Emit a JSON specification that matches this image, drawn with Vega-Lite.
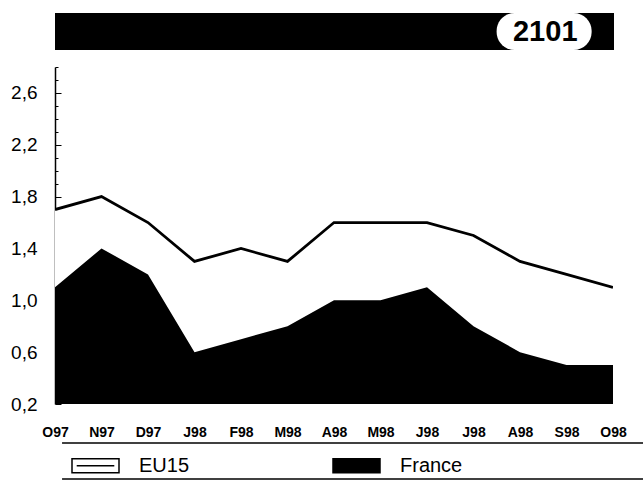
{
  "$schema": "https://vega.github.io/schema/vega-lite/v6.json",
  "padding": {"left": 10, "top": 13, "right": 0, "bottom": 0},
  "background": "white",
  "config": {"view": {"stroke": null}, "font": "Liberation Sans"},
  "spacing": 16,
  "datasets": {
    "series": [
      {"month": "1997-10", "series": "EU15", "value": 1.7},
      {"month": "1997-11", "series": "EU15", "value": 1.8},
      {"month": "1997-12", "series": "EU15", "value": 1.6},
      {"month": "1998-01", "series": "EU15", "value": 1.3},
      {"month": "1998-02", "series": "EU15", "value": 1.4},
      {"month": "1998-03", "series": "EU15", "value": 1.3},
      {"month": "1998-04", "series": "EU15", "value": 1.6},
      {"month": "1998-05", "series": "EU15", "value": 1.6},
      {"month": "1998-06", "series": "EU15", "value": 1.6},
      {"month": "1998-07", "series": "EU15", "value": 1.5},
      {"month": "1998-08", "series": "EU15", "value": 1.3},
      {"month": "1998-09", "series": "EU15", "value": 1.2},
      {"month": "1998-10", "series": "EU15", "value": 1.1},
      {"month": "1997-10", "series": "France", "value": 1.1},
      {"month": "1997-11", "series": "France", "value": 1.4},
      {"month": "1997-12", "series": "France", "value": 1.2},
      {"month": "1998-01", "series": "France", "value": 0.6},
      {"month": "1998-02", "series": "France", "value": 0.7},
      {"month": "1998-03", "series": "France", "value": 0.8},
      {"month": "1998-04", "series": "France", "value": 1.0},
      {"month": "1998-05", "series": "France", "value": 1.0},
      {"month": "1998-06", "series": "France", "value": 1.1},
      {"month": "1998-07", "series": "France", "value": 0.8},
      {"month": "1998-08", "series": "France", "value": 0.6},
      {"month": "1998-09", "series": "France", "value": 0.5},
      {"month": "1998-10", "series": "France", "value": 0.5}
    ],
    "header": [{"label": "2101"}]
  },
  "vconcat": [
    {
      "width": 559,
      "height": 37,
      "data": {"name": "header"},
      "layer": [
        {
          "mark": {"type": "rect", "color": "black"},
          "encoding": {
            "x": {"datum": 0, "type": "quantitative", "scale": {"domain": [0, 1]}, "axis": null},
            "x2": {"datum": 1},
            "y": {"datum": 0, "type": "quantitative", "scale": {"domain": [0, 1]}, "axis": null},
            "y2": {"datum": 1}
          }
        },
        {
          "mark": {"type": "rect", "color": "white", "cornerRadius": 18},
          "encoding": {
            "x": {"datum": 0.79, "type": "quantitative"},
            "x2": {"datum": 0.96},
            "y": {"datum": 0, "type": "quantitative"},
            "y2": {"datum": 1}
          }
        },
        {
          "mark": {"type": "text", "font": "Liberation Sans", "fontWeight": "bold", "fontSize": 29, "color": "black", "baseline": "middle", "align": "center"},
          "encoding": {
            "x": {"datum": 0.877, "type": "quantitative"},
            "y": {"datum": 0.5, "type": "quantitative"},
            "text": {"field": "label"}
          }
        }
      ]
    },
    {
      "spacing": 3,
      "vconcat": [
        {
          "width": 558,
          "height": 337,
          "data": {"name": "series"},
          "encoding": {
            "x": {
              "field": "month",
              "type": "ordinal",
              "scale": {"type": "point", "padding": 0},
              "axis": {
                "title": null,
                "domain": false,
                "ticks": false,
                "tickSize": 0,
                "labelAngle": 0,
                "labelFont": "Liberation Sans",
                "labelFontWeight": "bold",
                "labelFontSize": 14,
                "labelColor": "black",
                "labelPadding": 21,
                "labelExpr": "['J','F','M','A','M','J','J','A','S','O','N','D'][toNumber(slice(datum.value,5,7))-1] + slice(datum.value,2,4)"
              }
            },
            "y": {
              "field": "value",
              "type": "quantitative",
              "stack": null,
              "scale": {"domain": [0.2, 2.8], "nice": false, "zero": false},
              "axis": {
                "title": null,
                "grid": false,
                "values": [0.2, 0.3, 0.4, 0.5, 0.6, 0.7, 0.8, 0.9, 1.0, 1.1, 1.2, 1.3, 1.4, 1.5, 1.6, 1.7, 1.8, 1.9, 2.0, 2.1, 2.2, 2.3, 2.4, 2.5, 2.6, 2.7, 2.8],
                "domainColor": "black",
                "domainWidth": 1.5,
                "tickColor": "black",
                "tickWidth": 1,
                "tickSize": {"condition": {"test": "abs(round((datum.value-0.2)*10)) % 4 == 0", "value": -6}, "value": -3},
                "labelFont": "Liberation Sans",
                "labelFontSize": 19,
                "labelColor": "black",
                "labelPadding": 24,
                "labelExpr": "(round((datum.value-0.2)*10) % 4 == 0 && datum.value < 2.7) ? replace(format(datum.value, '.1f'), '.', ',') : ''"
              }
            }
          },
          "layer": [
            {
              "mark": {"type": "area", "clip": true, "interpolate": "linear"},
              "encoding": {
                "fill": {
                  "field": "series",
                  "type": "nominal",
                  "scale": {"domain": ["EU15", "France"], "range": ["white", "black"]},
                  "legend": {
                    "title": null,
                    "orient": "none",
                    "direction": "horizontal",
                    "legendX": 16,
                    "legendY": 428,
                    "symbolType": "M-1,-0.3H1V0.3H-1Z M-0.8,0H0.8",
                    "symbolSize": 2209,
                    "symbolStrokeColor": "black",
                    "symbolStrokeWidth": 1.5,
                    "symbolOpacity": 1,
                    "labelFont": "Liberation Sans",
                    "labelFontSize": 20,
                    "labelColor": "black",
                    "labelOffset": 19,
                    "columnPadding": 140
                  }
                }
              }
            },
            {
              "transform": [{"filter": "datum.series === 'EU15'"}],
              "mark": {"type": "line", "color": "black", "strokeWidth": 2.8, "clip": true}
            }
          ]
        },
        {
          "width": 588,
          "height": 36,
          "data": {"name": "header"},
          "layer": [
            {
              "mark": {"type": "rule", "color": "black", "strokeWidth": 1.5},
              "encoding": {
                "x": {"datum": 0.012, "type": "quantitative", "scale": {"domain": [0, 1]}, "axis": null},
                "x2": {"datum": 1},
                "y": {"datum": 0, "type": "quantitative", "scale": {"domain": [0, 1], "reverse": true}, "axis": null}
              }
            },
            {
              "mark": {"type": "rule", "color": "black", "strokeWidth": 1.5},
              "encoding": {
                "x": {"datum": 0.012, "type": "quantitative"},
                "x2": {"datum": 1},
                "y": {"datum": 1, "type": "quantitative"}
              }
            }
          ]
        }
      ]
    }
  ]
}
